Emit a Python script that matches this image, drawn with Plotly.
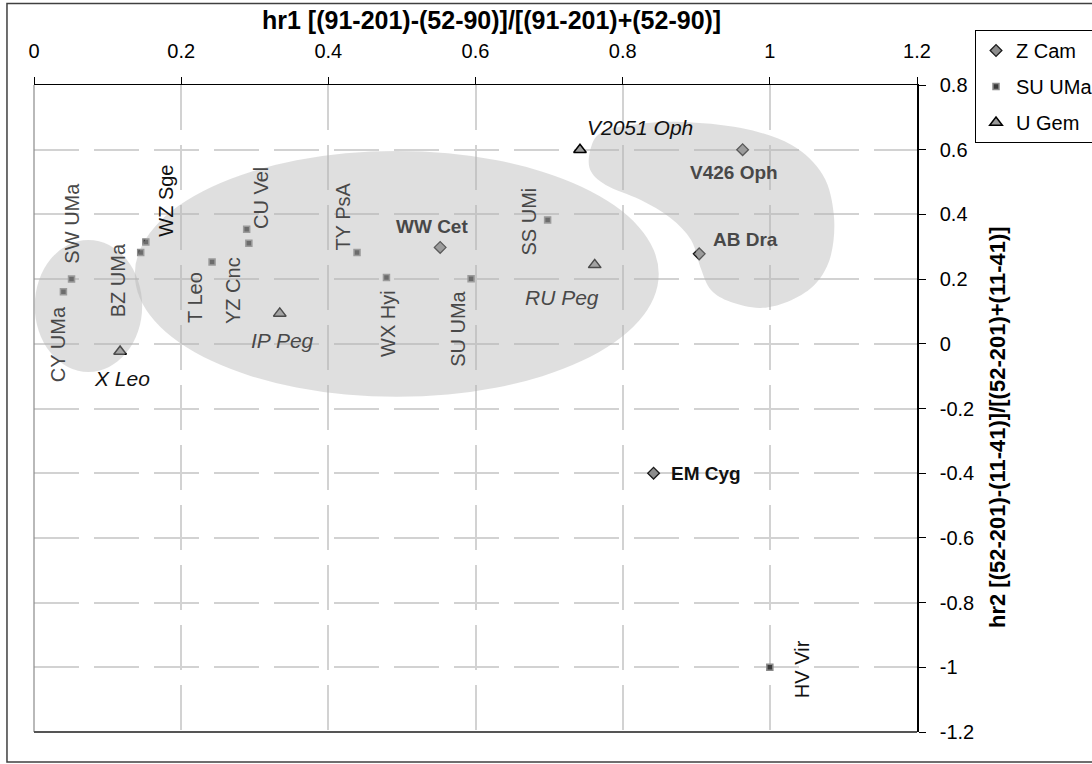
import plotly.graph_objects as go

# ---------------- data ----------------
zcam_names = ["WW Cet", "V426 Oph", "AB Dra", "EM Cyg"]
zcam_x = [0.552, 0.963, 0.904, 0.842]
zcam_y = [0.298, 0.600, 0.278, -0.400]

suuma_names = ["CY UMa", "SW UMa", "BZ UMa", "WZ Sge", "T Leo", "CU Vel",
               "YZ Cnc", "TY PsA", "WX Hyi", "SU UMa", "SS UMi", "HV Vir"]
suuma_x = [0.040, 0.051, 0.145, 0.152, 0.242, 0.289, 0.292, 0.439, 0.479, 0.594, 0.698, 1.000]
suuma_y = [0.161, 0.200, 0.282, 0.315, 0.253, 0.354, 0.311, 0.282, 0.205, 0.201, 0.383, -1.000]

ugem_names = ["X Leo", "IP Peg", "RU Peg", "V2051 Oph"]
ugem_x = [0.117, 0.334, 0.762, 0.742]
ugem_y = [-0.024, 0.094, 0.244, 0.600]

x_ticks = [0, 0.2, 0.4, 0.6, 0.8, 1.0, 1.2]
x_ticklabels = ["0", "0.2", "0.4", "0.6", "0.8", "1", "1.2"]
y_ticks = [0.8, 0.6, 0.4, 0.2, 0, -0.2, -0.4, -0.6, -0.8, -1.0, -1.2]
y_ticklabels = ["0.8", "0.6", "0.4", "0.2", "0", "-0.2", "-0.4", "-0.6", "-0.8", "-1", "-1.2"]

x_title = "hr1 [(91-201)-(52-90)]/[(91-201)+(52-90)]"
y_title = "hr2 [(52-201)-(11-41)]/[(52-201)+(11-41)]"

# grouping regions (shaded blobs), in data units
blob_small = dict(x0=0.001, x1=0.147, y0=-0.087, y1=0.321)
blob_large = dict(x0=0.137, x1=0.849, y0=-0.164, y1=0.596)
blob_right_x = [0.756, 0.770, 0.811, 0.879, 0.961, 1.029, 1.072, 1.087, 1.083, 1.063,
                1.029, 0.988, 0.947, 0.920, 0.906, 0.893, 0.865, 0.824, 0.777, 0.756]
blob_right_y = [0.599, 0.652, 0.676, 0.686, 0.667, 0.615, 0.522, 0.398, 0.274, 0.188,
                0.135, 0.111, 0.129, 0.166, 0.234, 0.321, 0.389, 0.445, 0.491, 0.537]

# ---------------- label styling (pixel offsets from each point) ----------------
label_offsets = {
    "CY UMa": (-6, 52), "SW UMa": (1, -56), "BZ UMa": (-23, 28), "WZ Sge": (20, -41),
    "T Leo": (-17, 36), "CU Vel": (15, -31), "YZ Cnc": (-16, 47), "TY PsA": (-14, -36),
    "WX Hyi": (2, 46), "SU UMa": (-13, 50), "SS UMi": (-19, 2), "HV Vir": (32, 2),
    "WW Cet": (-8, -21), "V426 Oph": (-9, 23), "AB Dra": (46, -14), "EM Cyg": (52, 0),
    "X Leo": (2, 27), "IP Peg": (3, 27), "RU Peg": (-33, 33), "V2051 Oph": (60, -22),
}
outside_labels = {"WZ Sge", "X Leo", "V2051 Oph", "EM Cyg", "HV Vir"}

FONT = "Liberation Sans, Arial, sans-serif"

fig = go.Figure()

fig.add_trace(go.Scatter(
    x=zcam_x, y=zcam_y, mode="markers", name="Z Cam", legendgroup="a",
    marker=dict(symbol="diamond", size=9, color="#8c8c8c",
                line=dict(color="#1a1a1a", width=1.3)),
    hovertext=zcam_names))
fig.add_trace(go.Scatter(
    x=suuma_x, y=suuma_y, mode="markers", name="SU UMa", legendgroup="b",
    marker=dict(symbol="square", size=6, color="#3a3a3a",
                line=dict(color="#8a8a8a", width=1.5)),
    hovertext=suuma_names))
fig.add_trace(go.Scatter(
    x=ugem_x, y=ugem_y, mode="markers", name="U Gem", legendgroup="c",
    marker=dict(symbol="triangle-up", size=11, color="#9a9a9a",
                line=dict(color="#000000", width=1.5)),
    hovertext=ugem_names))


def add_labels(names, xs, ys, kind):
    for n, x, y in zip(names, xs, ys):
        dx, dy = label_offsets[n]
        col = "#111111" if n in outside_labels else "#484848"
        if kind == "bold":
            txt, size, ang = "<b>" + n + "</b>", 19, 0
        elif kind == "italic":
            txt, size, ang = "<i>" + n + "</i>", 21, 0
        else:
            txt, size, ang = n, 20, -90
        fig.add_annotation(x=x, y=y, xref="x", yref="y", text=txt, showarrow=False,
                           xshift=dx, yshift=-dy, textangle=ang,
                           xanchor="center", yanchor="middle",
                           font=dict(family=FONT, size=size, color=col))


add_labels(zcam_names, zcam_x, zcam_y, "bold")
add_labels(suuma_names, suuma_x, suuma_y, "rot")
add_labels(ugem_names, ugem_x, ugem_y, "italic")


def smooth_closed_path(xs, ys):
    pts = list(zip(xs, ys))
    n = len(pts)
    d = "M %.4f,%.4f" % pts[0]
    for i in range(n):
        p0, p1, p2, p3 = pts[i - 1], pts[i], pts[(i + 1) % n], pts[(i + 2) % n]
        c1 = (p1[0] + (p2[0] - p0[0]) / 6, p1[1] + (p2[1] - p0[1]) / 6)
        c2 = (p2[0] - (p3[0] - p1[0]) / 6, p2[1] - (p3[1] - p1[1]) / 6)
        d += " C %.4f,%.4f %.4f,%.4f %.4f,%.4f" % (c1 + c2 + p2)
    return d + " Z"


blob_style = dict(fillcolor="#b2b2b2", opacity=0.42, line=dict(width=0), layer="above",
                  xref="x", yref="y")
fig.add_shape(type="circle", **blob_small, **blob_style)
fig.add_shape(type="circle", **blob_large, **blob_style)
fig.add_shape(type="path", path=smooth_closed_path(blob_right_x, blob_right_y), **blob_style)

# plot-area border (left & bottom) and outer chart border
fig.add_shape(type="line", xref="paper", yref="paper", x0=0, x1=0, y0=0, y1=1,
              line=dict(color="#8a8a8a", width=1.2), layer="above")
fig.add_shape(type="line", xref="paper", yref="paper", x0=0, x1=1, y0=0, y1=0,
              line=dict(color="#555555", width=2), layer="above")
fig.add_shape(type="rect", xref="paper", yref="paper", x0=-0.0306, x1=1.30, y0=-0.0464, y1=1.126,
              line=dict(color="#404040", width=1.5), fillcolor="rgba(0,0,0,0)", layer="below")

# axis titles (placed as text so they can sit exactly where the original has them)
fig.add_annotation(x=0.518, y=1.1005, xref="paper", yref="paper", showarrow=False,
                   text="<b>" + x_title + "</b>", xanchor="center", yanchor="middle",
                   font=dict(family=FONT, size=25, color="black"))
fig.add_annotation(x=1.0906, y=0.4714, xref="paper", yref="paper", showarrow=False,
                   text="<b>" + y_title + "</b>", textangle=-90,
                   xanchor="center", yanchor="middle",
                   font=dict(family=FONT, size=22, color="black"))

grid = dict(showgrid=True, gridcolor="#d2d2d2", gridwidth=1.5, griddash="45px,15px")

fig.update_layout(
    width=1092, height=764,
    margin=dict(l=34, r=175, t=85, b=32, autoexpand=False),
    paper_bgcolor="white", plot_bgcolor="white",
    font=dict(family=FONT, size=20, color="black"),
    showlegend=True,
    legend=dict(x=1.0657, y=1.085, xanchor="left", yanchor="top",
                bordercolor="black", borderwidth=1, bgcolor="white",
                font=dict(family=FONT, size=20, color="black"),
                itemsizing="trace", tracegroupgap=7),
    xaxis=dict(range=[0, 1.2], side="top", tickvals=x_ticks, ticktext=x_ticklabels,
               showline=True, linecolor="black", linewidth=1, ticks="outside", ticklen=7,
               tickcolor="black", zeroline=False, ticklabelstandoff=11, automargin=False,
               tickfont=dict(family=FONT, size=20, color="black"),
               **grid),
    yaxis=dict(range=[-1.2, 0.8], side="right", tickvals=y_ticks, ticktext=y_ticklabels,
               showline=True, linecolor="black", linewidth=1.5, ticks="outside", ticklen=7,
               tickcolor="black", zeroline=False, ticklabelstandoff=10, automargin=False,
               tickfont=dict(family=FONT, size=20, color="black"),
               **grid),
)

fig.write_html("out.html", config={"displayModeBar": False},
               post_script="document.body.style.margin='0px';document.body.style.padding='0px';")
